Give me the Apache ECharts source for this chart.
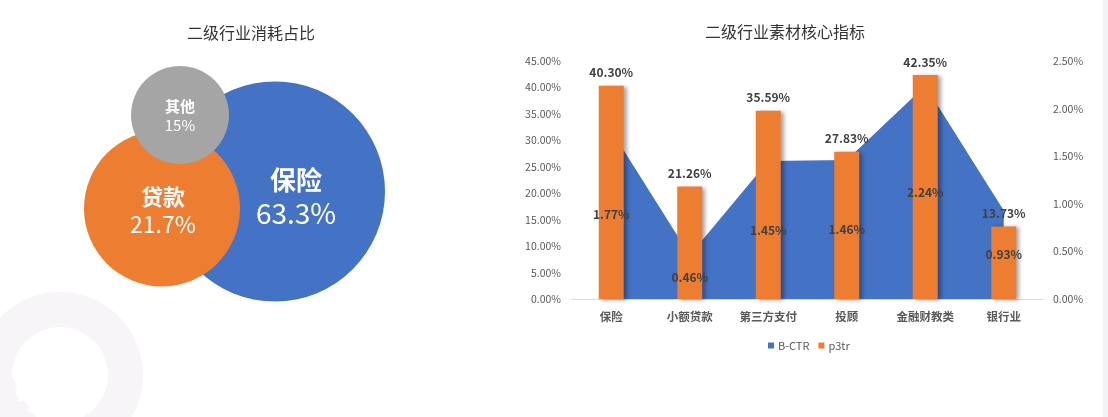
<!DOCTYPE html>
<html><head><meta charset="utf-8">
<script src="https://cdn.jsdelivr.net/npm/echarts@6/dist/echarts.min.js"></script>
<style>html,body{margin:0;padding:0;background:#fff}#c{width:1108px;height:417px}</style>
</head><body><div id="c"></div>
<script>
// ---- data ----
const shareNames = ['保险', '贷款', '其他'];
const shareValues = [63.3, 21.7, 15];
const categories = ['保险', '小额贷款', '第三方支付', '投顾', '金融财教类', '银行业'];
const bctr = [1.77, 0.46, 1.45, 1.46, 2.24, 0.93];
const p3tr = [40.30, 21.26, 35.59, 27.83, 42.35, 13.73];
const leftAxis = { min: 0, max: 45, interval: 5 };
const rightAxis = { min: 0, max: 2.5, interval: 0.5 };

// ---- bubble layout (presentation only) ----
const bubbleLayout = [
  { cx: 275, cy: 191.5, d: 220, color: '#4472C4', offset: [21, 5], ns: 26, vs: 28, lh: 33, nw: 'bold' },
  { cx: 162, cy: 208.5, d: 156, color: '#ED7D31', offset: [1, 2], ns: 22, vs: 23, lh: 27, nw: 'bold' },
  { cx: 180, cy: 115, d: 98, color: '#A5A5A5', offset: [0, 1], ns: 15, vs: 15, lh: 19, nw: 'bold' }
];
const FONT = '"Noto Sans CJK SC", "Noto Sans", sans-serif';
const pct2 = v => Number(v).toFixed(2) + '%';

const bubbleData = shareNames.map((n, i) => {
  const L = bubbleLayout[i];
  return {
    name: n,
    value: [L.cx, L.cy, shareValues[i]],
    symbolSize: L.d,
    itemStyle: { color: L.color, opacity: 1 },
    label: {
      show: true, position: 'inside', offset: L.offset,
      formatter: p => '{n|' + p.name + '}\n{v|' + p.value[2] + '%}',
      rich: {
        n: { fontSize: L.ns, fontWeight: L.nw, color: '#fff', lineHeight: L.lh, fontFamily: FONT, align: 'center' },
        v: { fontSize: L.vs, color: '#fff', lineHeight: L.lh, fontFamily: FONT, align: 'center' }
      }
    }
  };
});

const chart = echarts.init(document.getElementById('c'), null, { renderer: 'canvas' });
chart.setOption({
  animation: false,
  backgroundColor: '#fff',
  textStyle: { fontFamily: FONT },
  graphic: [
    { type: 'ring', shape: { cx: 60, cy: 375, r: 83, r0: 48 }, style: { fill: '#f7f5f7' }, z: -10 },
    { type: 'polygon', shape: { points: [[0, 381], [14, 378], [17, 390], [0, 396]] }, style: { fill: '#f7f5f7' }, z: -10 },
    { type: 'polygon', shape: { points: [[0, 410], [24, 400], [30, 408], [10, 417], [0, 417]] }, style: { fill: '#f7f5f7' }, z: -10 },
    { type: 'rect', shape: { x: 1103, y: 0, width: 5, height: 417 }, style: { fill: '#f3f3f5' }, z: -10 }
  ],
  title: [
    { text: '二级行业消耗占比', left: 246, top: 20, textAlign: 'center',
      textStyle: { fontSize: 16, fontWeight: 'normal', color: '#333', fontFamily: FONT } },
    { text: '二级行业素材核心指标', left: 780, top: 19, textAlign: 'center',
      textStyle: { fontSize: 16, fontWeight: 'normal', color: '#333', fontFamily: FONT } }
  ],
  legend: {
    data: [{ name: 'B-CTR', icon: 'rect' }, { name: 'p3tr', icon: 'rect' }],
    left: 763, top: 335, itemWidth: 6, itemHeight: 6, itemGap: 9,
    textStyle: { fontSize: 11, color: '#595959', fontFamily: FONT, padding: [0, 0, 0, -1] }
  },
  grid: [
    { left: 572, right: 65, top: 61, bottom: 118 },
    { left: 0, top: 0, width: 420, height: 417 }
  ],
  xAxis: [
    { type: 'category', gridIndex: 0, data: categories, boundaryGap: true,
      axisLine: { lineStyle: { color: '#d9d9d9', width: 1 } }, axisTick: { show: false },
      axisLabel: { color: '#595959', fontSize: 11.5, fontWeight: 'bold', margin: 12, fontFamily: FONT } },
    { type: 'value', gridIndex: 1, min: 0, max: 420, show: false }
  ],
  yAxis: [
    { type: 'value', gridIndex: 0, min: leftAxis.min, max: leftAxis.max, interval: leftAxis.interval,
      splitLine: { show: false }, axisLine: { show: false }, axisTick: { show: false },
      axisLabel: { color: '#595959', fontSize: 10.5, margin: 11, formatter: pct2, fontFamily: FONT } },
    { type: 'value', gridIndex: 0, position: 'right', min: rightAxis.min, max: rightAxis.max, interval: rightAxis.interval,
      splitLine: { show: false }, axisLine: { show: false }, axisTick: { show: false },
      axisLabel: { color: '#595959', fontSize: 10.5, margin: 10, formatter: pct2, fontFamily: FONT } },
    { type: 'value', gridIndex: 1, min: 0, max: 417, inverse: true, show: false }
  ],
  series: [
    { type: 'line', name: 'B-CTR', xAxisIndex: 0, yAxisIndex: 1, data: bctr,
      symbol: 'none', lineStyle: { width: 0 }, itemStyle: { color: '#4472C4' },
      areaStyle: { color: '#4472C4', opacity: 1 }, z: 1 },
    { type: 'bar', name: 'p3tr', xAxisIndex: 0, yAxisIndex: 0, data: p3tr, barWidth: 25,
      itemStyle: { color: '#ED7D31', shadowColor: 'rgba(0,0,0,0.35)', shadowBlur: 4, shadowOffsetX: 3, shadowOffsetY: 1 },
      label: { show: true, position: 'top', distance: 7, formatter: p => pct2(p.value),
        color: '#404040', fontSize: 12, fontWeight: 'bold', fontFamily: FONT }, z: 2 },
    { type: 'bar', name: 'B-CTR标签', xAxisIndex: 0, yAxisIndex: 1, data: bctr, barWidth: 25, barGap: '-100%',
      itemStyle: { color: 'rgba(0,0,0,0)' }, silent: true,
      label: { show: true, position: 'inside', formatter: p => pct2(p.value),
        color: '#404040', fontSize: 12, fontWeight: 'bold', fontFamily: FONT, textBorderWidth: 0 }, z: 6 },
    { type: 'scatter', name: '消耗占比', xAxisIndex: 1, yAxisIndex: 2, data: bubbleData,
      symbol: 'circle', silent: true, z: 3, itemStyle: { opacity: 1 } }
  ]
});
</script></body></html>
